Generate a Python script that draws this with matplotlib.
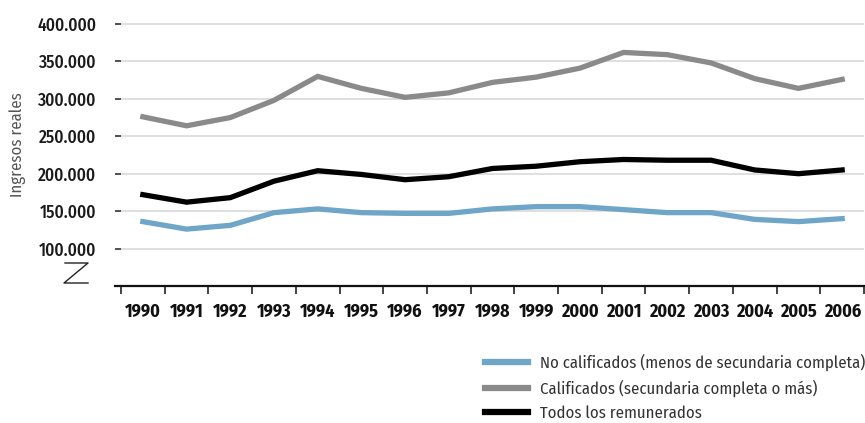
import matplotlib
matplotlib.use("Agg")
import matplotlib.pyplot as plt
from matplotlib import font_manager as fm
from matplotlib.lines import Line2D

years = list(range(1990, 2007))
no_calificados = [136, 126, 131, 148, 153, 148, 147, 147, 153, 156, 156, 152, 148, 148, 139, 136, 140]
calificados = [276, 264, 275, 298, 330, 314, 302, 308, 322, 329, 341, 362, 359, 348, 327, 314, 326]
todos = [172, 162, 168, 190, 204, 199, 192, 196, 207, 210, 216, 219, 218, 218, 205, 200, 205]
y_ticks = [100, 150, 200, 250, 300, 350, 400]
y_tick_labels = ["100.000", "150.000", "200.000", "250.000", "300.000", "350.000", "400.000"]
series_labels = ["No calificados (menos de secundaria completa)",
                 "Calificados (secundaria completa o más)",
                 "Todos los remunerados"]

names = {f.name for f in fm.fontManager.ttflist}
fam = "DejaVu Sans"
for cand in ["Fira Sans Condensed", "Ubuntu Condensed", "Encode Sans Condensed",
             "Asap Condensed", "Roboto Condensed", "IBM Plex Sans Condensed"]:
    if cand in names:
        fam = cand
        break
plt.rcParams['font.family'] = [fam, 'DejaVu Sans']

fig = plt.figure(figsize=(8.65, 4.23), dpi=100)
ax = fig.add_axes([121/865, 1-286/423, (864-121)/865, (286-16.5)/423])

x = list(range(len(years)))
c_blue = "#6FA5C7"
c_gray = "#8A8A8A"
c_black = "#000000"
ax.plot(x, no_calificados, color=c_blue, lw=3.8, solid_joinstyle='miter', zorder=3)
ax.plot(x, calificados, color=c_gray, lw=3.8, solid_joinstyle='miter', zorder=3)
ax.plot(x, todos, color=c_black, lw=3.8, solid_joinstyle='miter', zorder=3)

ax.set_xlim(-0.5, len(years) - 0.5)
ax.set_ylim(50, 410)
ax.set_yticks(y_ticks)
ax.set_yticklabels(y_tick_labels, fontsize=12.5, color="#1a1a1a", fontweight='medium')
for v in y_ticks:
    ax.axhline(v, xmin=0.002, color="#D9D9D9", lw=1.2, zorder=1)
ax.tick_params(axis='y', length=4, width=1.2, color="#333333", pad=14, direction='out')

ax.set_xticks([i + 0.5 for i in range(-1, len(years))], minor=False)
ax.set_xticklabels([])
ax.set_xticks(x, minor=True)
ax.set_xticklabels([str(y) for y in years], minor=True, fontsize=13, fontweight='bold', color="#111111")
ax.tick_params(axis='x', which='major', length=6, width=1.2, color="#222222", direction='out')
ax.tick_params(axis='x', which='minor', length=0, pad=12)

for s in ['left', 'right', 'top']:
    ax.spines[s].set_visible(False)
ax.spines['bottom'].set_color("#111111")
ax.spines['bottom'].set_linewidth(1.6)
ax.spines['bottom'].set_bounds(-0.64, len(years) - 0.5)

fig.text(18/865, 1-145/423, "Ingresos reales", rotation=90, ha='center', va='center',
         fontsize=12, color="#555555", fontweight='normal')

# axis break symbol
brk = Line2D([65/865, 88/865, 64/865, 88/865],
             [1-263/423, 1-263/423, 1-283/423, 1-283/423],
             transform=fig.transFigure, color="#222222", lw=1.0)
fig.add_artist(brk)

handles = [Line2D([], [], color=c, lw=4.5) for c in (c_blue, c_gray, c_black)]
leg = fig.legend(handles, series_labels, loc='upper left', bbox_to_anchor=(485/865, 1-354/423),
                 frameon=False, handlelength=2.6, handletextpad=0.7,
                 labelspacing=0.5, borderpad=0, borderaxespad=0,
                 prop={'size': 12, 'weight': 'normal'})
for t in leg.get_texts():
    t.set_color("#333333")

fig.savefig("out.png", dpi=100)
